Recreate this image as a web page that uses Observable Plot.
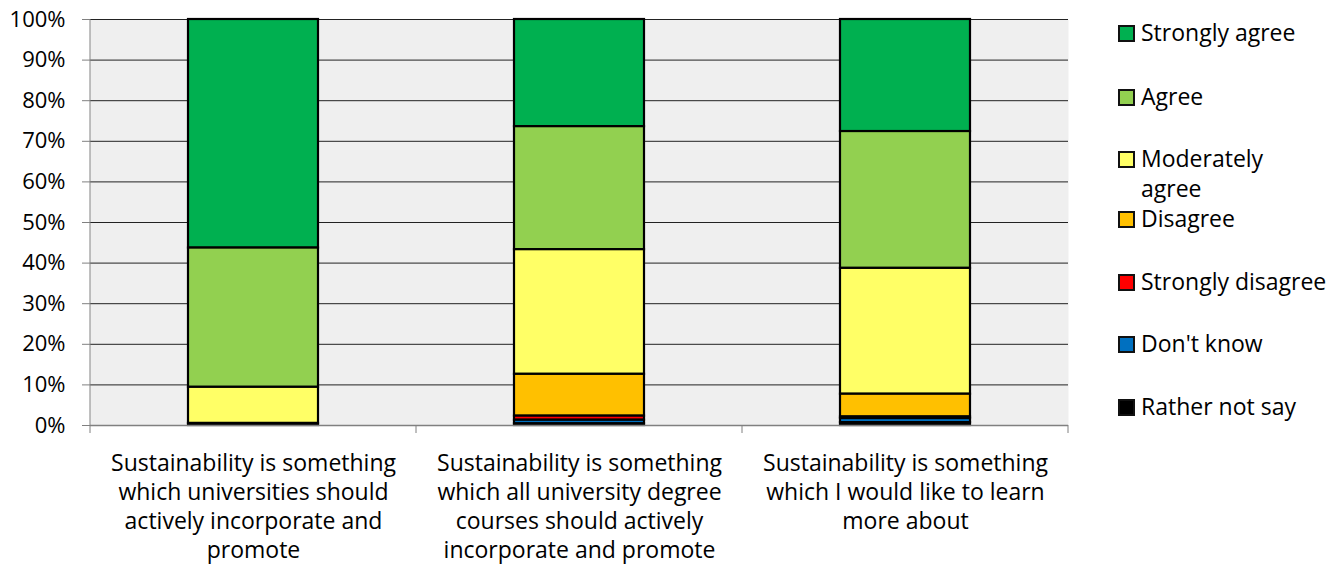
<!DOCTYPE html>
<html>
<head>
<meta charset="utf-8">
<script src="https://cdn.jsdelivr.net/npm/d3@7"></script>
<script src="https://cdn.jsdelivr.net/npm/@observablehq/plot@0.6"></script>
<style>
  html, body { margin: 0; padding: 0; background: #fff; }
  #wrap { position: relative; width: 1343px; height: 569px; font-family: "Open Sans", sans-serif; }
  #legend { position: absolute; left: 1118px; top: 0; }
  .li { position: absolute; left: 0; display: flex; align-items: flex-start; font-size: 23px; color: #000; white-space: nowrap; line-height: 30px; }
  .sw { width: 13px; height: 13px; border: 2px solid #111; margin-top: 8px; margin-right: 6px; flex: none; box-sizing: content-box; }
</style>
</head>
<body>
<div id="wrap"></div>
<script>
const questions = [
  "Sustainability is something\nwhich universities should\nactively incorporate and\npromote",
  "Sustainability is something\nwhich all university degree\ncourses should actively\nincorporate and promote",
  "Sustainability is something\nwhich I would like to learn\nmore about"
];
const responses = ["Strongly agree", "Agree", "Moderately agree", "Disagree", "Strongly disagree", "Don't know", "Rather not say"];
const colors = ["#00B050", "#92D050", "#FFFF66", "#FFC000", "#FF0000", "#0070C0", "#000000"];
// percentages per question, in the order of `responses`
const q1Values = [56.3, 34.3, 8.9, 0, 0, 0, 0.5];
const q2Values = [26.4, 30.3, 30.7, 10.3, 1.0, 0.9, 0.4];
const q3Values = [27.6, 33.7, 31.0, 5.6, 0.4, 1.0, 0.7];
const yTicks = [0, 10, 20, 30, 40, 50, 60, 70, 80, 90, 100];

const series = [q1Values, q2Values, q3Values];
const data = [];
questions.forEach((q, i) => responses.forEach((r, j) => data.push({q, r, v: series[i][j]})));

const stackOrder = responses.slice().reverse();

const boundaryTicks = (index, scales, values, dimensions) => {
  const {marginLeft, marginRight, width, height, marginBottom, marginTop} = dimensions;
  const n = questions.length;
  const step = (width - marginLeft - marginRight) / n;
  const g = d3.create("svg:g");
  const y0 = height - marginBottom;
  for (let i = 0; i <= n; i++) {
    const x = marginLeft + i * step;
    g.append("line").attr("x1", x).attr("x2", x).attr("y1", y0).attr("y2", y0 + 8)
      .attr("stroke", "#808080").attr("stroke-width", 1);
  }
  g.append("line").attr("x1", marginLeft).attr("x2", marginLeft).attr("y1", marginTop).attr("y2", y0)
    .attr("stroke", "#808080").attr("stroke-width", 1);
  return g.node();
};

const chart = Plot.plot({
  width: 1343,
  height: 569,
  marginLeft: 90,
  marginRight: 275,
  marginTop: 19,
  marginBottom: 144,
  style: {fontFamily: "'Open Sans', sans-serif", fontSize: "20px", background: "#fff", overflow: "visible"},
  x: {domain: questions, paddingInner: 0.6, paddingOuter: 0.3, label: null, axis: null},
  y: {domain: [0, 100], label: null, axis: null},
  color: {domain: responses, range: colors},
  marks: [
    Plot.frame({fill: "#EFEFEF", stroke: null}),
    Plot.gridY(yTicks, {stroke: "#222", strokeOpacity: 1, strokeWidth: 1}),
    Plot.barY(data, {x: "q", y: "v", fill: "r", order: stackOrder, stroke: "#000", strokeWidth: 2.2}),
    Plot.ruleY([0], {stroke: "#808080", strokeWidth: 1.5}),
    Plot.axisY(yTicks, {tickFormat: d => d + "%", tickSize: 8, tickPadding: 17, stroke: "#808080", fontSize: 22, fill: "#000"}),
    Plot.axisX({tickSize: 0, tickPadding: 25, fontSize: 23, lineHeight: 1.26, fill: "#000"}),
    boundaryTicks
  ]
});

const wrap = document.getElementById("wrap");
wrap.appendChild(chart);

const legend = document.createElement("div");
legend.id = "legend";
const tops = [17, 81, 143, 203, 266, 328, 391];
responses.forEach((r, i) => {
  const item = document.createElement("div");
  item.className = "li";
  item.style.top = tops[i] + "px";
  const sw = document.createElement("div");
  sw.className = "sw";
  sw.style.background = colors[i];
  const t = document.createElement("div");
  t.innerHTML = r === "Moderately agree" ? "Moderately<br>agree" : r;
  item.appendChild(sw); item.appendChild(t);
  legend.appendChild(item);
});
wrap.appendChild(legend);
</script>
</body>
</html>
